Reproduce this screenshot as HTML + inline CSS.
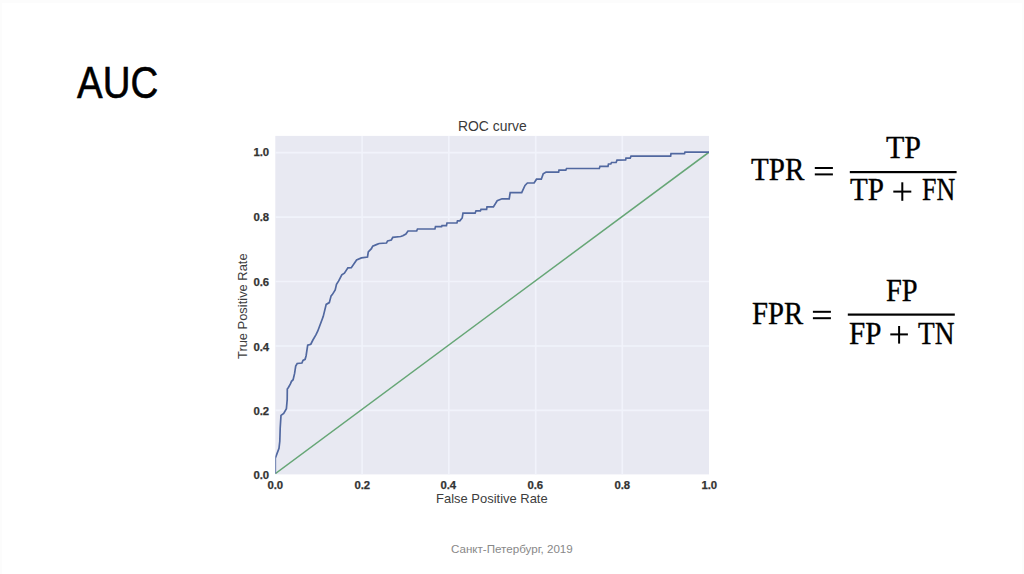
<!DOCTYPE html>
<html><head><meta charset="utf-8">
<style>
html,body{margin:0;padding:0;background:#fff;}
body{width:1024px;height:574px;position:relative;overflow:hidden;font-family:"Liberation Sans",sans-serif;}
.t{position:absolute;white-space:nowrap;line-height:1;}
#title{left:77px;top:60px;font-size:45px;color:#000;transform-origin:0 0;transform:scaleX(0.854);-webkit-text-stroke:0.6px #000;}
#ctitle{left:458px;top:119.6px;font-size:13.9px;color:#3a3a3a;}
.tick{font-weight:bold;font-size:10.5px;color:#333;transform:scaleX(1.08);-webkit-text-stroke:0.25px #333;}
#xlab{left:436px;top:492px;font-size:13.3px;color:#3d3d3d;transform:scaleX(0.975);transform-origin:0 0;}
#ylab{left:237px;top:359px;font-size:12.9px;color:#3d3d3d;transform:rotate(-90deg);transform-origin:0 0;}
.m{font-family:"Liberation Serif",serif;font-size:31px;color:#000;transform-origin:0 0;-webkit-text-stroke:0.35px #000;}
#foot{left:451px;top:543px;font-size:11.6px;color:#888;}
svg{position:absolute;left:0;top:0;}
</style></head><body>
<div style="position:absolute;left:0;top:0;width:1024px;height:3px;background:#fcfcfc"></div>
<div style="position:absolute;left:0;top:0;width:2px;height:574px;background:#fcfcfc"></div>
<div style="position:absolute;right:0;top:0;width:2px;height:574px;background:#fcfcfc"></div>
<svg width="1024" height="574" viewBox="0 0 1024 574">
<defs><clipPath id="cp"><rect x="275.3" y="135.9" width="433.7" height="338.5"/></clipPath></defs>
<rect x="275.3" y="135.9" width="433.7" height="338.5" fill="#e8e9f2"/>
<g stroke="#f1f3fb" stroke-width="1.6">
<line x1="362.1" y1="135.9" x2="362.1" y2="474.4"/>
<line x1="448.8" y1="135.9" x2="448.8" y2="474.4"/>
<line x1="535.7" y1="135.9" x2="535.7" y2="474.4"/>
<line x1="622.3" y1="135.9" x2="622.3" y2="474.4"/>
<line x1="275.4" y1="410.4" x2="709" y2="410.4"/>
<line x1="275.4" y1="346" x2="709" y2="346"/>
<line x1="275.4" y1="281.5" x2="709" y2="281.5"/>
<line x1="275.4" y1="217.1" x2="709" y2="217.1"/>
<line x1="275.4" y1="152.6" x2="709" y2="152.6"/>
</g>
<g clip-path="url(#cp)">
<line x1="275.3" y1="473.6" x2="709" y2="152.2" stroke="#66a676" stroke-width="1.5"/>
<polyline fill="none" stroke="#5168a0" stroke-width="1.7" stroke-linejoin="miter" points="275.3,473.6 275.3,458.1 279,448.3 279.8,441.3 280.2,428 281,415.4 283.7,413.4 286.4,408.7 287.2,399.7 287.3,389.1 288.4,387.5 290.4,383.9 291.5,381.3 293.1,379.7 294.6,373.4 295.7,366.1 297.2,363.5 301.9,363 303,360.4 305.1,359.3 306.1,355.7 307.7,345.2 310.8,344.2 312.9,340 315.9,334.9 317.7,331.2 323.2,316.6 326.2,304.4 329.3,302.6 331.1,295.9 332.3,294.6 335.2,290 336.5,284.4 338.7,280.9 341.8,274.8 344.4,273.1 347.9,267.9 351.3,267.7 356.6,260 361.4,257.9 367.5,257 368.3,251.8 371.4,248.7 372.7,246.1 377,244.4 379.2,243.5 386.5,243 387.6,240.9 391.3,240 392.8,237.3 400.7,236.5 402.8,235.7 405.9,234 408,231 416.7,230.9 417.5,229 434.9,229 435.5,226.6 441.6,226.6 442,225.7 446.4,225.7 447,223 456.9,223 457.5,220.9 459.8,220.9 462.2,218 463,213.2 475.1,213.2 476,210.8 480.4,210.8 481,209.4 486.6,209.4 487,206.9 493.4,206.9 497.2,200.7 502,198.8 509.2,198.8 510.2,192.6 521.7,192.6 525,185.4 527.4,183 534.1,183 536.5,179.2 541.3,179.2 543.2,173.9 546.1,172 558.6,172.1 559,170.2 565.8,170.2 566.5,168.5 599.3,168.5 600,166.3 608,166.3 608.5,164 610.8,164 611.5,162.5 616.1,162.5 617,160.1 625.6,160 626,158.2 630.2,158.2 631,156.2 670.6,156.2 671,153.6 684.5,153.6 685,152.2 709,152.2"/>
</g>
<g fill="#000">
<rect x="849.8" y="171" width="106.8" height="2.2"/>
<rect x="814.8" y="167" width="18.1" height="2"/>
<rect x="814.8" y="173.4" width="18.1" height="2"/>
<rect x="893.3" y="190.6" width="18" height="2"/>
<rect x="901.3" y="182.3" width="2" height="18.5"/>
<rect x="847.8" y="313.5" width="107" height="2.2"/>
<rect x="812.9" y="310.8" width="18" height="2"/>
<rect x="812.9" y="317.2" width="18" height="2"/>
<rect x="890.3" y="333.4" width="17.6" height="2"/>
<rect x="898.1" y="326" width="2" height="17.6"/>
</g>
</svg>
<div id="title" class="t">AUC</div>
<div id="ctitle" class="t">ROC curve</div>
<div id="yt10" class="t tick" style="left:253.5px;top:147px">1.0</div>
<div id="yt08" class="t tick" style="left:253.5px;top:211.6px">0.8</div>
<div id="yt06" class="t tick" style="left:253.5px;top:276.8px">0.6</div>
<div id="yt04" class="t tick" style="left:253.5px;top:341.8px">0.4</div>
<div id="yt02" class="t tick" style="left:253.5px;top:406px">0.2</div>
<div id="yt00" class="t tick" style="left:253.5px;top:470.4px">0.0</div>
<div id="xt00" class="t tick" style="left:268px;top:480px">0.0</div>
<div id="xt02" class="t tick" style="left:355px;top:480px">0.2</div>
<div id="xt04" class="t tick" style="left:441px;top:480px">0.4</div>
<div id="xt06" class="t tick" style="left:528px;top:480px">0.6</div>
<div id="xt08" class="t tick" style="left:615px;top:480px">0.8</div>
<div id="xt10" class="t tick" style="left:702px;top:480px">1.0</div>
<div id="xlab" class="t">False Positive Rate</div>
<div id="ylab" class="t">True Positive Rate</div>
<div id="f1a" class="t m" style="left:751px;top:154.1px;transform:scaleX(0.9368)">TPR</div>
<div id="f1n" class="t m" style="left:886px;top:131.9px;transform:scaleX(0.9677)">TP</div>
<div id="f1d1" class="t m" style="left:850px;top:174.1px;transform:scaleX(0.9387)">TP</div>
<div id="f1d2" class="t m" style="left:922px;top:174.1px;transform:scaleX(0.8371)">FN</div>
<div id="f2a" class="t m" style="left:752px;top:297.6px;transform:scaleX(0.9271)">FPR</div>
<div id="f2n" class="t m" style="left:886px;top:275.1px;transform:scaleX(0.9174)">FP</div>
<div id="f2d1" class="t m" style="left:849px;top:317.9px;transform:scaleX(0.9387)">FP</div>
<div id="f2d2" class="t m" style="left:918px;top:317.9px;transform:scaleX(0.8806)">TN</div>
<div id="foot" class="t">Санкт-Петербург, 2019</div>
</body></html>
